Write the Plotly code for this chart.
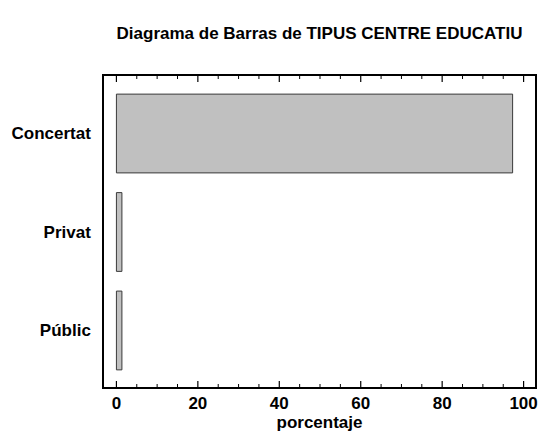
import plotly.graph_objects as go

categories = ["Concertat", "Privat", "Públic"]
values = [97.3, 1.35, 1.35]
x_tick_start, x_tick_step, x_minor_step, x_tick_end = 0, 20, 5, 100

fig = go.Figure()
fig.add_trace(go.Bar(
    y=categories,
    x=values,
    orientation="h",
    width=0.8,
    marker=dict(color="#c0c0c0", line=dict(color="#3a3a3a", width=1)),
    hoverinfo="skip",
))

font = dict(family="Liberation Sans, Arial, sans-serif", size=17, color="black",
            weight="bold")

plot_h = 438 - 76 - 51
shapes = []
for v in range(x_tick_start, x_tick_end + 1, x_minor_step):
    major = (v - x_tick_start) % x_tick_step == 0
    L = (6 if major else 3) / plot_h
    w = 1.2 if major else 1
    for y0, y1 in ((0, L), (1 - L, 1)):
        shapes.append(dict(type="line", xref="x", yref="paper", x0=v, x1=v,
                           y0=y0, y1=y1, line=dict(color="black", width=w),
                           layer="above"))

fig.update_layout(
    width=541, height=438,
    margin=dict(l=104, r=6, t=76, b=51),
    paper_bgcolor="white", plot_bgcolor="white",
    showlegend=False,
    template="none",
    shapes=shapes,
    title=dict(
        text="Diagrama de Barras de TIPUS CENTRE EDUCATIU",
        x=(104 + 535) / 2 / 541, xanchor="center",
        y=1 - 33 / 438, yanchor="middle",
        font=font,
    ),
    xaxis=dict(
        range=[-3.05, 102.8],
        tickmode="linear", tick0=x_tick_start, dtick=x_tick_step,
        ticks="", 
        showline=True, linecolor="black", linewidth=1.5, mirror=True,
        showgrid=False, zeroline=False,
        tickfont=font,
        title=dict(text="porcentaje", font=font, standoff=4),
    ),
    yaxis=dict(
        type="category",
        categoryorder="array", categoryarray=categories,
        range=[2.574, -0.584],
        ticks="", showline=True, linecolor="black", linewidth=1.5, mirror=True,
        showgrid=False, zeroline=False,
        tickfont=font, ticklabelstandoff=8,
    ),
)

fig.write_html("out.html", config={"displayModeBar": False},
               post_script="document.body.style.margin='0';")
